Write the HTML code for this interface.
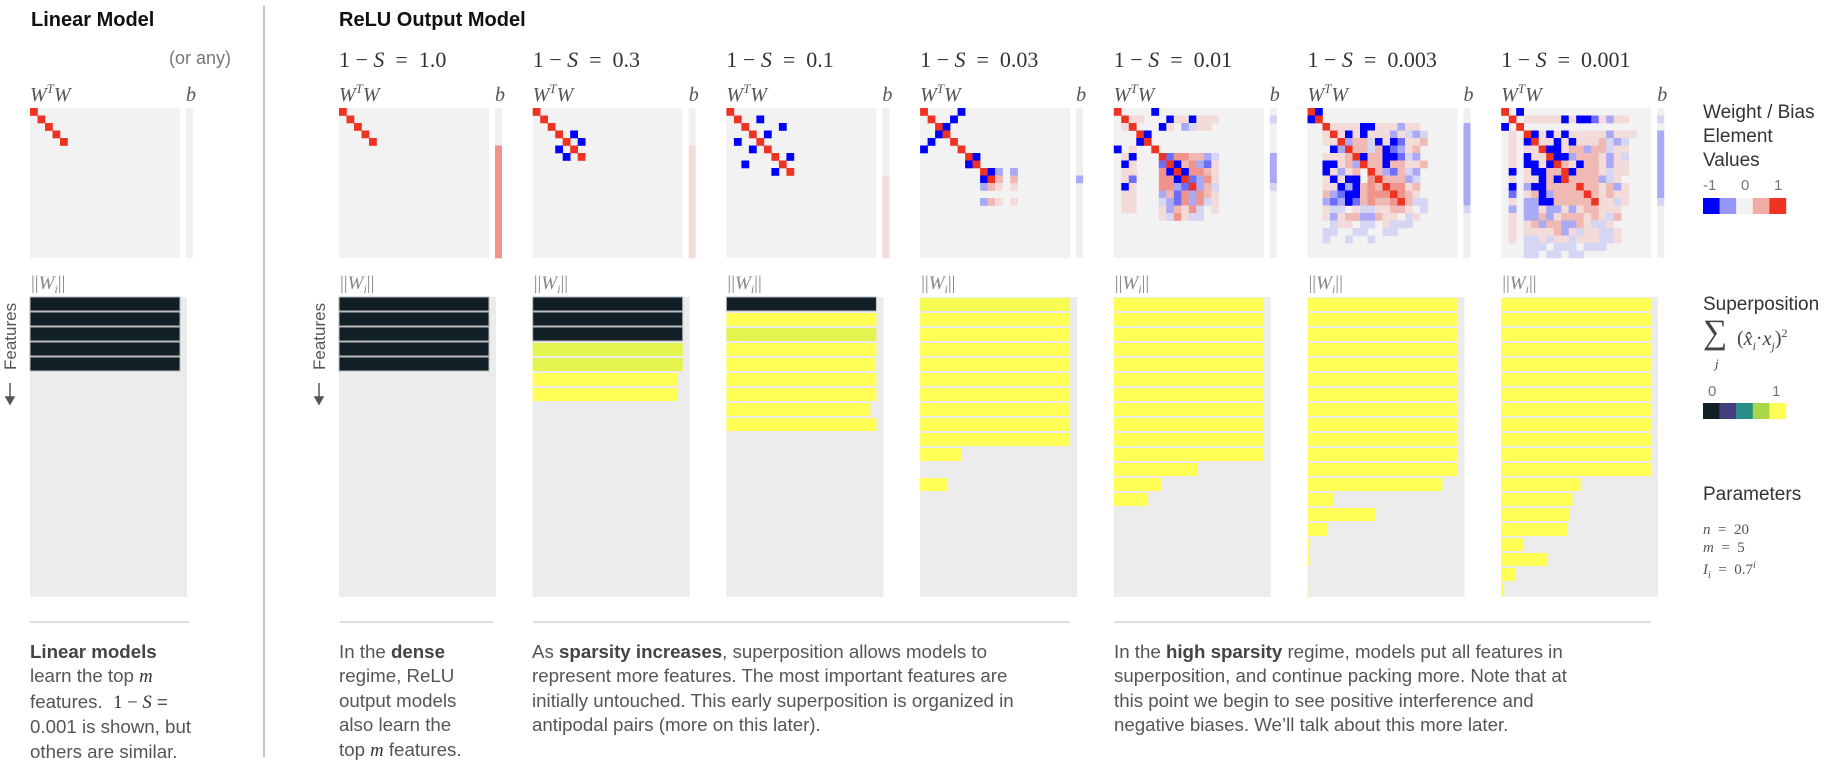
<!DOCTYPE html>
<html><head><meta charset="utf-8">
<style>
html,body{margin:0;padding:0;background:#fff;}
body{width:1830px;height:774px;position:relative;overflow:hidden;font-family:"Liberation Sans",sans-serif;}
.t{position:absolute;white-space:nowrap;}
.h{font-weight:bold;font-size:20px;color:#111;}
.m{font-family:"Liberation Serif",serif;color:#333;}
.p{position:absolute;font-size:18.7px;line-height:24.4px;color:#555;}
.p b{color:#444;}
.sep{position:absolute;height:2px;background:#ddd;top:621px;}
</style></head><body>
<div class="t h" style="left:31px;top:9px">Linear Model</div>
<div class="t h" style="left:339px;top:9px">ReLU Output Model</div>
<div class="t" style="left:169px;top:48px;font-size:18px;color:#777">(or any)</div>
<div style="position:absolute;left:263px;top:6px;width:2px;height:751px;background:#c4c4c4"></div>
<svg id="chart" width="1830" height="774" style="position:absolute;left:0;top:0"></svg>

<div class="sep" style="left:30px;width:159px"></div>
<div class="sep" style="left:340px;width:153px"></div>
<div class="sep" style="left:533px;width:537px"></div>
<div class="sep" style="left:1114px;width:537px"></div>

<div class="p" style="left:30px;top:640px"><b>Linear models</b><br>learn the top <i class="m">m</i><br>features.&nbsp; <span class="m">1 − <i>S</i></span> =<br>0.001 is shown, but<br>others are similar.</div>
<div class="p" style="left:339px;top:640px">In the <b>dense</b><br>regime, ReLU<br>output models<br>also learn the<br>top <i class="m">m</i> features.</div>
<div class="p" style="left:532px;top:640px">As <b>sparsity increases</b>, superposition allows models to<br>represent more features. The most important features are<br>initially untouched. This early superposition is organized in<br>antipodal pairs (more on this later).</div>
<div class="p" style="left:1114px;top:640px">In the <b>high sparsity</b> regime, models put all features in<br>superposition, and continue packing more. Note that at<br>this point we begin to see positive interference and<br>negative biases. We’ll talk about this more later.</div>

<div class="t" style="left:1703px;top:101px;font-size:19px;line-height:24px;color:#333">Weight / Bias<br>Element<br>Values</div>
<div class="t" style="left:1703px;top:177px;font-size:15px;color:#777;width:84px"><span style="position:absolute;left:0">-1</span><span style="position:absolute;left:38px">0</span><span style="position:absolute;left:71px">1</span></div>
<div class="t" style="left:1703px;top:294px;font-size:19px;color:#333">Superposition</div>
<div class="t m" style="left:1703px;top:318px;font-size:20px;color:#444"><span style="font-size:34px;position:absolute;left:0;top:-4px">∑</span><i style="position:absolute;left:12px;top:38px;font-size:13px">j</i><span style="position:absolute;left:34px;top:8px">(<i>x̂<sub style="font-size:12px">i</sub></i>·<i>x<sub style="font-size:12px">j</sub></i>)<sup style="font-size:12px">2</sup></span></div>
<div class="t" style="left:1703px;top:383px;font-size:15px;color:#777;width:84px"><span style="position:absolute;left:5px">0</span><span style="position:absolute;left:69px">1</span></div>
<div class="t" style="left:1703px;top:484px;font-size:19px;color:#333">Parameters</div>
<div class="t m" style="left:1703px;top:521px;font-size:15px;line-height:18px;color:#555"><i>n</i> &nbsp;= &nbsp;20<br><i>m</i> &nbsp;= &nbsp;5<br><i>I<sub style="font-size:10px">i</sub></i> &nbsp;= &nbsp;0.7<sup style="font-size:10px"><i>i</i></sup></div>

<script>
// ---- data ----
const panelLabels = ["", "1.0", "0.3", "0.1", "0.03", "0.01", "0.003", "0.001"];
// heatmap rows, codes: B=-1 b=-0.55 c=-0.3 d=-0.12 .=0 e=0.12 f=0.3 g=0.5 R=1
const hmLinear = ["R",".R","..R","...R","....R"];
const hmD10 = ["R",".R","..R","...R","....R"];
const hmD03 = ["R",".R","..R","...R.B","....R.B","...B.R","....B.R"];
const hmD01 = ["R",".R..B","..R....B","...R.B",".B..R","...B.R","......R.B","..B....R","......B.R"];
const hmD003 = ["R....B",".R..B","..RB","..BR",".B..R","B....R","......RB","......BR","........RBc.c","........BRf.f","........cfe.e","","........cfe.e"];
const hmD0001 = ["R....B.",".Ree...BeeBeee",".eR...Be.cdee","...RB","...BR","B.e..R",".eB...Rbggffcd",".Be...bRBfgcbe",".ee...gBRBggfe",".eb...ggBRbcge",".Be...ggcbRcfd",".ee...cfbgcgfe",".ee...dcbgcgde",".ee...ecfegd.e","......edgedd"];
const hmD0003 = ["RB","BR","..ReeeeBBeeecee","..eReBeBeeecedcd","..eeRcffdBeBbeef","...BcRffdfBbcef","..eeefRBffBBbdc","..BBefcRffBffeef","..Becef.Rfcbfdc","..eBeBB.gRfffcd","..eeBcBfgfRggef","..fcbBBfgggRgfe","..cbcBbfgffgRfdd","..edd.eddeeffe.d","..eceffccfee.de","...dee.dd.eddd","..dd..dd..dd","..d..d..d"];
const hmD00001 = ["R.B",".R.eeeeeBeBBbecee","B.R",".e.RBeBeBeeeeeceee",".e.BReeBeBeeefdcd",".e.eeRBBeffcffdee",".e.BeeRBBcfffeced",".e.BBeBRfeBffecee",".B.eBBffRBfffedee",".e.eeBfBRffffcde",".B.cBBffffRffefce",".b.efBcffffRfefee",".e.ccBBfffffReede",".c.ccecceceffeee",".e.ccfcefffefedf",".e.efcffccfedde",".e.eeeefcedeedde",".e.ddedeedeeedde","...ddd.ddd.ddd","...dd.dd.dd"];
const heatmaps = [hmLinear, hmD10, hmD03, hmD01, hmD003, hmD0001, hmD0003, hmD00001];
const biasLin = "";
const biasD10 = ".....ggggggggggggggg";
const biasD03 = ".....eeeeeeeeeeeeeee";
const biasD01 = ".........eeeeeeeeeee";
const biasD003 = ".........c";
const biasD0001 = ".d....ccccd";
const biasD0003 = "..cccccccccccd";
const biasD00001 = ".d.cccccccccd";
const biases = [biasLin, biasD10, biasD03, biasD01, biasD003, biasD0001, biasD0003, biasD00001];
// ||W_i|| norms (fraction of full) and superposition values per feature
const normLin = [1,1,1,1,1];
const supLin = [0,0,0,0,0];
const normD10 = [1,1,1,1,1];
const supD10 = [0,0,0,0,0];
const normD03 = [1,1,1,1,1,0.964,0.964];
const supD03 = [0,0,0,0.9,0.9,1,1];
const normD01 = [1,1,1,1,0.99,1,1,0.96,1];
const supD01 = [0,1,0.9,1,1,1,1,1,1];
const normD003 = [1,1,1,1,1,1,1,1,1,1,0.275,0,0.18];
const supD003 = [0.97,1,1,1,1,1,1,1,1,1,1,1,1];
const normD0001 = [1,1,1,1,1,1,1,1,1,1,1,0.555,0.317,0.229];
const supD0001 = [1,1,1,1,1,1,1,1,1,1,1,1,1,1];
const normD0003 = [1,1,1,1,1,1,1,1,1,1,1,1,0.9,0.174,0.452,0.136,0.014,0.01,0,0.005];
const supD0003 = [1,1,1,1,1,1,1,1,1,1,1,1,1,1,1,1,1,1,1,1];
const normD00001 = [1,1,1,1,1,1,1,1,1,1,1,1,0.529,0.476,0.455,0.443,0.152,0.307,0.097,0.019];
const supD00001 = [1,1,1,1,1,1,1,1,1,1,1,1,1,1,1,1,1,1,1,1];
const norms = [normLin, normD10, normD03, normD01, normD003, normD0001, normD0003, normD00001];
const sups = [supLin, supD10, supD03, supD01, supD003, supD0001, supD0003, supD00001];
const weightLegend = [-1,-0.5,0,0.5,1];
const supLegend = [0,0.25,0.5,0.75,1];

// ---- rendering ----
const NS = "http://www.w3.org/2000/svg";
const svg = document.getElementById("chart");
const codeVal = {B:-1,b:-0.55,c:-0.3,d:-0.12,".":0,e:0.12,f:0.3,g:0.5,R:1};
const N = 20, CELL = 7.5, HM = 150;
function panelX(i){ return i===0 ? 30 : 339 + (i-1)*193.7; }
function cellX(i,c){ return panelX(i) + c*CELL; }
function cellY(r){ return 108 + r*CELL; }
function rowY(r){ return 297 + r*15 + 1; }
function barW(v){ return v*150; }
function wColor(v){
  const bg=[242,242,242];
  const t=Math.min(1,Math.abs(v)), to = v>=0?[238,51,34]:[0,0,255];
  return "rgb("+bg.map((b,k)=>Math.round(b+(to[k]-b)*t)).join(",")+")";
}
const supStops=[[0,[17,31,39]],[0.25,[67,63,128]],[0.5,[42,143,136]],[0.75,[168,216,74]],[0.9,[228,244,78]],[1,[255,255,85]]];
function sColor(v){
  for(let k=1;k<supStops.length;k++){
    if(v<=supStops[k][0]){const a=supStops[k-1],b=supStops[k];const t=(v-a[0])/(b[0]-a[0]);
      return "rgb("+a[1].map((x,j)=>Math.round(x+(b[1][j]-x)*t)).join(",")+")";}
  }
  return "rgb(255,255,85)";
}
function el(tag,attrs){const e=document.createElementNS(NS,tag);for(const k in attrs)e.setAttribute(k,attrs[k]);svg.appendChild(e);return e;}
function txt(x,y,s,attrs){const e=el("text",Object.assign({x:x,y:y},attrs));e.textContent=s;return e;}

for(let i=0;i<8;i++){
  const x0=panelX(i);
  if(i>0){
    const t=el("text",{x:x0,y:67,"font-family":"Liberation Serif, serif","font-size":"22",fill:"#333"});
    
    
    t.innerHTML='1 − <tspan font-style="italic">S</tspan> &#160;= &#160;'+panelLabels[i];
  }
  const wl=el("text",{x:x0,y:101,"font-family":"Liberation Serif, serif","font-size":"20",fill:"#555","font-style":"italic"});
  
  
  wl.innerHTML='W<tspan dy="-8" font-size="13">T</tspan><tspan dy="8">W</tspan>';
  const bl=txt(x0+156,101,"b",{"font-family":"Liberation Serif, serif","font-size":"20",fill:"#555","font-style":"italic"});
  
  
  const bg=el("rect",{x:x0,y:108,width:HM,height:HM,fill:"#f2f2f2"});
  
  
  const rows=heatmaps[i];
  for(let r=0;r<rows.length;r++){
    for(let c=0;c<rows[r].length;c++){
      const v=codeVal[rows[r][c]]||0;
      if(v===0)continue;
      const cell=el("rect",{x:cellX(i,c),y:cellY(r),width:CELL+0.3,height:CELL+0.3,fill:wColor(v)});
      
      
    }
  }
  const bb=el("rect",{x:x0+156,y:108,width:7,height:HM,fill:"#f0f0f0"});
  
  
  const bs=biases[i];
  for(let r=0;r<bs.length;r++){
    const v=codeVal[bs[r]]||0; if(v===0)continue;
    const bc=el("rect",{x:x0+156,y:cellY(r),width:7,height:CELL+0.3,fill:wColor(v)});
    
    
  }
  const nl=el("text",{x:x0+1,y:289,"font-family":"Liberation Serif, serif","font-size":"19",fill:"#888"});
  
  
  nl.innerHTML='||<tspan font-style="italic">W</tspan><tspan font-size="12" dy="4" font-style="italic">i</tspan><tspan dy="-4">||</tspan>';
  const box=el("rect",{x:x0,y:297,width:157,height:300,fill:"#ececec"});
  
  
  const nv=norms[i], sv=sups[i];
  for(let r=0;r<nv.length;r++){
    if(nv[r]<=0)continue;
    const dark=sv[r]<0.3;
    const bar=el("rect",{x:x0,y:rowY(r)-(dark?1:0),width:barW(nv[r]),height:dark?14:13,fill:sColor(sv[r]),stroke:dark?"#bbb":"none","stroke-width":dark?1:0});
    
    
  }
  if(i<=1){
    const fx=x0-14;
    const ft=txt(fx,370,"Features",{transform:"rotate(-90 "+fx+" 370)","font-size":"17",fill:"#555","font-family":"Liberation Sans, sans-serif"});
    
    
    const ar=el("path",{d:"M"+(fx-6)+" 383 L"+(fx-6)+" 401 M"+(fx-10)+" 397 L"+(fx-6)+" 404 L"+(fx-2)+" 397 Z",stroke:"#555","stroke-width":"1.5",fill:"#555"});
    
    
  }
}
for(let k=0;k<weightLegend.length;k++){
  const s=el("rect",{x:1703+k*16.6,y:198,width:16.8,height:16,fill:wColor(weightLegend[k]*(Math.abs(weightLegend[k])===0.5?0.75:1))});
  
  
}
for(let k=0;k<supLegend.length;k++){
  const s=el("rect",{x:1703+k*16.6,y:403,width:16.8,height:16,fill:sColor(supLegend[k])});
  
  
}
</script>
</body></html>
